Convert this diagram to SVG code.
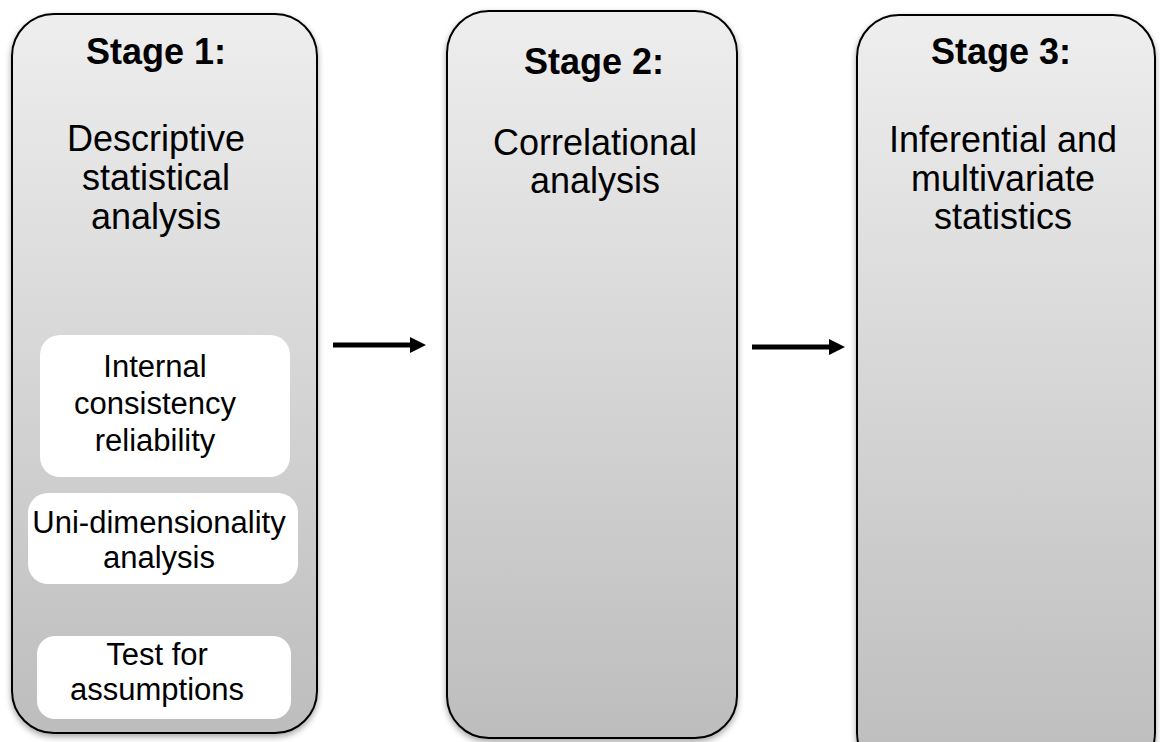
<svg xmlns="http://www.w3.org/2000/svg" width="1160" height="742" viewBox="0 0 1160 742">
  <defs>
    <linearGradient id="stageFill" x1="0" y1="0" x2="0" y2="1">
      <stop offset="0" stop-color="#eeeeee"/>
      <stop offset="1" stop-color="#bdbdbd"/>
    </linearGradient>
    <filter id="softShadow" x="-10%" y="-10%" width="120%" height="120%">
      <feDropShadow dx="0" dy="3" stdDeviation="3" flood-color="#000" flood-opacity="0.35"/>
    </filter>
    <marker id="arrowHead" viewBox="0 0 10 10" refX="0" refY="5" markerWidth="3.2" markerHeight="3.2" orient="auto" markerUnits="strokeWidth">
      <path d="M0,0 L10,5 L0,10 Z" fill="#000"/>
    </marker>
    <style>
      .stage { fill: url(#stageFill); stroke: #000; stroke-width: 2; filter: url(#softShadow); }
      .item { fill: #fff; }
      .title { font-family: "Liberation Sans", Arial, sans-serif; font-weight: bold; font-size: 36px; fill: #000; text-anchor: middle; }
      .body { font-family: "Liberation Sans", Arial, sans-serif; font-size: 36px; fill: #000; text-anchor: middle; }
      .small { font-family: "Liberation Sans", Arial, sans-serif; font-size: 31px; fill: #000; text-anchor: middle; }
      .link { stroke: #000; stroke-width: 5; fill: none; marker-end: url(#arrowHead); }
    </style>
  </defs>

  <!-- Stage 1 column with its three checks -->
  <g id="stage1">
    <rect class="stage" x="12" y="14" width="305" height="719" rx="42" ry="42"/>
    <text class="title" x="156" y="64">Stage 1:</text>
    <text class="body" x="156" y="151">Descriptive</text>
    <text class="body" x="156" y="190">statistical</text>
    <text class="body" x="156" y="229">analysis</text>
  </g>
  <g id="internal-consistency">
    <rect class="item" x="40" y="335" width="250" height="142" rx="20" ry="20"/>
    <text class="small" x="155" y="377">Internal</text>
    <text class="small" x="155" y="414">consistency</text>
    <text class="small" x="155" y="451">reliability</text>
  </g>
  <g id="uni-dimensionality">
    <rect class="item" x="28" y="493" width="270" height="91" rx="20" ry="20"/>
    <text class="small" x="159" y="533">Uni-dimensionality</text>
    <text class="small" x="159" y="568">analysis</text>
  </g>
  <g id="assumptions">
    <rect class="item" x="37" y="636" width="254" height="83" rx="18" ry="18"/>
    <text class="small" x="157" y="665">Test for</text>
    <text class="small" x="157" y="700">assumptions</text>
  </g>

  <!-- Stage 2 column -->
  <g id="stage2">
    <rect class="stage" x="447" y="11" width="290" height="727" rx="42" ry="42"/>
    <text class="title" x="594" y="74">Stage 2:</text>
    <text class="body" x="595" y="155">Correlational</text>
    <text class="body" x="595" y="193">analysis</text>
  </g>

  <!-- Stage 3 column (runs past the bottom edge) -->
  <g id="stage3">
    <rect class="stage" x="857" y="15" width="298" height="760" rx="42" ry="42"/>
    <text class="title" x="1001" y="64">Stage 3:</text>
    <text class="body" x="1003" y="152">Inferential and</text>
    <text class="body" x="1003" y="191">multivariate</text>
    <text class="body" x="1003" y="229">statistics</text>
  </g>

  <!-- Connectors between stages -->
  <g id="connectors">
    <line class="link" x1="333" y1="345" x2="410" y2="345"/>
    <line class="link" x1="752" y1="347" x2="829" y2="347"/>
  </g>
</svg>
